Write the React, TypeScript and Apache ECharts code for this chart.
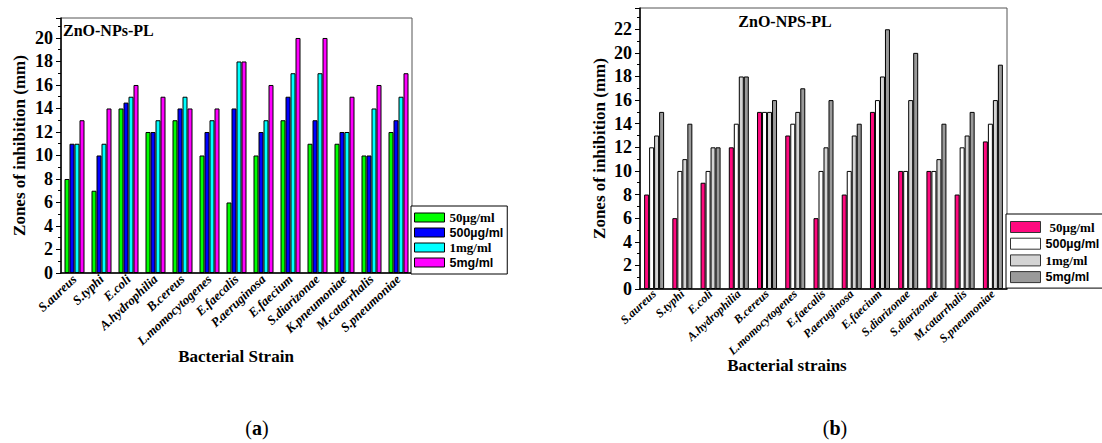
import React, { useEffect, useRef } from "react";
import * as echarts from "echarts";

const categoriesA = [
  "S.aureus", "S.typhi", "E.coli", "A.hydrophilia", "B.cereus", "L.momocytogenes",
  "E.faecalis", "P.aeruginosa", "E.faecium", "S.diarizonae", "K.pneumoniae",
  "M.catarrhalis", "S.pneumoniae",
];
const categoriesB = [
  "S.aureus", "S.typhi", "E.coli", "A.hydrophilia", "B.cereus", "L.momocytogenes",
  "E.faecalis", "P.aeruginosa", "E.faecium", "S.diarizonae", "S.diarizonae",
  "M.catarrhalis", "S.pneumoniae",
];
const seriesNames = ["50µg/ml", "500µg/ml", "1mg/ml", "5mg/ml"];

// Chart (a)
const a50ug = [8, 7, 14, 12, 13, 10, 6, 10, 13, 11, 11, 10, 12];
const a500ug = [11, 10, 14.5, 12, 14, 12, 14, 12, 15, 13, 12, 10, 13];
const a1mg = [11, 11, 15, 13, 15, 13, 18, 13, 17, 17, 12, 14, 15];
const a5mg = [13, 14, 16, 15, 14, 14, 18, 16, 20, 20, 15, 16, 17];

// Chart (b)
const b50ug = [8, 6, 9, 12, 15, 13, 6, 8, 15, 10, 10, 8, 12.5];
const b500ug = [12, 10, 10, 14, 15, 14, 10, 10, 16, 10, 10, 12, 14];
const b1mg = [13, 11, 12, 18, 15, 15, 12, 13, 18, 16, 11, 13, 16];
const b5mg = [15, 14, 12, 18, 16, 17, 16, 14, 22, 20, 14, 15, 19];

const yTicks = [0, 2, 4, 6, 8, 10, 12, 14, 16, 18, 20, 22];

const colorsA = ["#00ff00", "#0000ff", "#00ffff", "#ff00ff"];
const colorsB = ["#ff0a7f", "#ffffff", "#d4d4d4", "#9a9a9a"];

const SERIF = "Liberation Serif";
const SANS = "Liberation Sans";

export default function App() {
  const ref = useRef<HTMLDivElement>(null);
  useEffect(() => {
    if (!ref.current) return;
    const chart = echarts.init(ref.current, null, { renderer: "svg" });
    const dataA = [a50ug, a500ug, a1mg, a5mg];
    const dataB = [b50ug, b500ug, b1mg, b5mg];

    const legendStyle = (name: string) => {
      const label = name.replace(/^b:/, "");
      const isB = name.startsWith("b:");
      const serif = label === "50µg/ml" || label === "1mg/ml";
      const key = (serif ? "serif" : "sans") + (isB && label === "50µg/ml" ? "Ind" : "");
      return `{${key}|${label}}`;
    };

    const richFor = (size: number, lh: number) => ({
      serif: { fontFamily: SERIF, fontWeight: "bold", fontSize: size + 0.5, lineHeight: lh, color: "#000" },
      serifInd: { fontFamily: SERIF, fontWeight: "bold", fontSize: size + 0.5, lineHeight: lh, color: "#000", padding: [0, 0, 0, 4] },
      sans: { fontFamily: SANS, fontWeight: "bold", fontSize: size, lineHeight: lh, color: "#000" },
    });

    const xAxisBase = (gridIndex: number, data: string[], size: number, margin: number) => ({
      type: "category",
      gridIndex,
      data,
      axisLine: { lineStyle: { color: "#000", width: 1.5 } },
      axisTick: { show: false },
      axisLabel: {
        interval: 0,
        rotate: 43,
        margin,
        color: "#000",
        fontFamily: SERIF,
        fontStyle: "italic",
        fontWeight: "bold",
        fontSize: size,
      },
    });

    const yAxisBase = (gridIndex: number, max: number, gap: number) => ({
      type: "value",
      gridIndex,
      min: 0,
      max,
      interval: 2,
      name: "Zones of inhibition (mm)",
      nameLocation: "middle",
      nameRotate: 90,
      nameGap: gap,
      nameTextStyle: { fontFamily: SERIF, fontWeight: "bold", fontSize: 17, color: "#000" },
      axisLine: { show: true, lineStyle: { color: "#000", width: 1.5 } },
      axisTick: { show: true, length: 5, lineStyle: { color: "#000" } },
      minorTick: { show: true, splitNumber: 2, length: 3, lineStyle: { color: "#000" } },
      splitLine: { show: false },
      axisLabel: {
        showMaxLabel: false,
        margin: 8,
        color: "#000",
        fontFamily: SERIF,
        fontWeight: "bold",
        fontSize: 18,
        formatter: (v: number) => (yTicks.includes(v) ? String(v) : ""),
      },
    });

    const series: any[] = [];
    seriesNames.forEach((n, i) => {
      series.push({
        type: "bar",
        name: n,
        xAxisIndex: 0,
        yAxisIndex: 0,
        barWidth: 5,
        barGap: "0%",
        data: dataA[i],
        itemStyle: { color: colorsA[i], borderColor: "#000", borderWidth: 1 },
      });
    });
    seriesNames.forEach((n, i) => {
      series.push({
        type: "bar",
        name: "b:" + n,
        xAxisIndex: 1,
        yAxisIndex: 1,
        barWidth: 5,
        barGap: "0%",
        data: dataB[i],
        itemStyle: { color: colorsB[i], borderColor: "#000", borderWidth: 1 },
      });
    });

    chart.setOption({
      animation: false,
      backgroundColor: "#fff",
      grid: [
        { left: 61, top: 18, width: 351, height: 255, show: true, borderColor: "#555", borderWidth: 1 },
        { left: 640, top: 8, width: 367, height: 281, show: true, borderColor: "#555", borderWidth: 1 },
      ],
      xAxis: [xAxisBase(0, categoriesA, 13, 4), xAxisBase(1, categoriesB, 12, 3)],
      yAxis: [yAxisBase(0, 21.7, 33), yAxisBase(1, 23.8, 32)],
      legend: [
        {
          data: seriesNames,
          orient: "vertical",
          left: 411,
          top: 206,
          padding: [4, 4, 4, 3],
          itemWidth: 30,
          itemHeight: 9,
          itemGap: 0,
          icon: "rect",
          backgroundColor: "#fff",
          borderColor: "#000",
          borderWidth: 1,
          selectedMode: false,
          itemStyle: { borderColor: "#000", borderWidth: 1 },
          formatter: legendStyle,
          textStyle: { lineHeight: 15, rich: richFor(12.5, 15) },
        },
        {
          data: seriesNames.map((n) => "b:" + n),
          orient: "vertical",
          left: 1006,
          top: 214,
          padding: [5, 4, 3, 4],
          itemWidth: 30,
          itemHeight: 11,
          itemGap: 0.7,
          icon: "rect",
          backgroundColor: "#fff",
          borderColor: "#000",
          borderWidth: 1,
          selectedMode: false,
          itemStyle: { borderColor: "#333", borderWidth: 1 },
          formatter: legendStyle,
          textStyle: { lineHeight: 16, rich: richFor(12.5, 16) },
        },
      ],
      graphic: [
        {
          type: "text",
          x: 63,
          y: 30,
          style: { text: "ZnO-NPs-PL", fontFamily: SERIF, fontWeight: "bold", fontSize: 16, fill: "#000", textAlign: "left", textVerticalAlign: "middle" },
        },
        {
          type: "text",
          x: 785,
          y: 21,
          style: { text: "ZnO-NPS-PL", fontFamily: SERIF, fontWeight: "bold", fontSize: 16, fill: "#000", textAlign: "center", textVerticalAlign: "middle" },
        },
        {
          type: "text",
          x: 236,
          y: 356,
          style: { text: "Bacterial Strain", fontFamily: SERIF, fontWeight: "bold", fontSize: 17, fill: "#000", textAlign: "center", textVerticalAlign: "middle" },
        },
        {
          type: "text",
          x: 787,
          y: 365,
          style: { text: "Bacterial strains", fontFamily: SERIF, fontWeight: "bold", fontSize: 17, fill: "#000", textAlign: "center", textVerticalAlign: "middle" },
        },
        {
          type: "text",
          x: 257,
          y: 428,
          style: {
            text: "{p|(}{b|a}{p|)}",
            textAlign: "center",
            textVerticalAlign: "middle",
            rich: {
              p: { fontFamily: SERIF, fontSize: 20, fill: "#000" },
              b: { fontFamily: SERIF, fontSize: 20, fontWeight: "bold", fill: "#000" },
            },
          },
        },
        {
          type: "text",
          x: 835,
          y: 428,
          style: {
            text: "{p|(}{b|b}{p|)}",
            textAlign: "center",
            textVerticalAlign: "middle",
            rich: {
              p: { fontFamily: SERIF, fontSize: 20, fill: "#000" },
              b: { fontFamily: SERIF, fontSize: 20, fontWeight: "bold", fill: "#000" },
            },
          },
        },
      ],
      series,
    });
    return () => chart.dispose();
  }, []);
  return (
    <div
      ref={ref}
      style={{ position: "fixed", left: 0, top: 0, width: 1102, height: 443, background: "#fff" }}
    />
  );
}
